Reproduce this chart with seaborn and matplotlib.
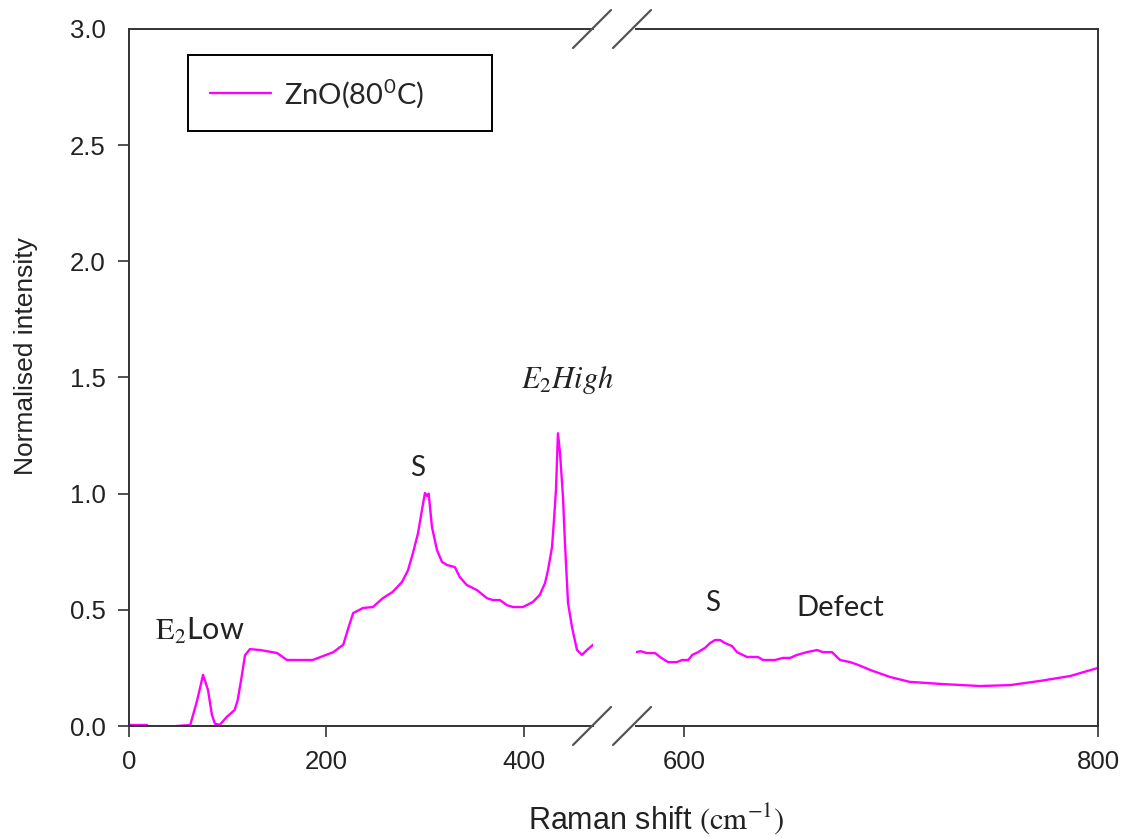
import matplotlib
matplotlib.use('Agg')
import matplotlib.pyplot as plt
from matplotlib.lines import Line2D
import seaborn as sns

# Raman spectrum (x in cm-1, y normalised)
lead_x = [0, 18]
lead_y = [0.004, 0.004]

left_x = [48, 62, 69, 75, 80, 84, 87, 92, 99, 107, 110, 114, 117.5, 122.5, 133,
          150, 160, 186, 207, 217, 222, 227, 237, 247, 257, 267, 276.5, 282.5,
          287.6, 292.7, 296.7, 299.7, 301.8, 303.5, 306.8, 311.9, 317, 322, 330,
          335, 342, 352.4, 362.5, 368.6, 375.7, 382.8, 388.9, 399, 409, 416,
          421.3, 424.3, 428.4, 430.4, 432.4, 434.4, 436.5, 439.5, 441.5, 444.6,
          448.6, 453.7, 458.7, 463.8, 470]
left_y = [0.0, 0.004, 0.11, 0.22, 0.155, 0.047, 0.01, 0.005, 0.039, 0.069, 0.11,
          0.21, 0.305, 0.331, 0.327, 0.314, 0.284, 0.284, 0.318, 0.35, 0.42,
          0.486, 0.508, 0.512, 0.55, 0.577, 0.62, 0.67, 0.745, 0.83, 0.93, 1.003,
          0.99, 1.0, 0.857, 0.757, 0.706, 0.693, 0.684, 0.641, 0.607, 0.585,
          0.55, 0.542, 0.542, 0.52, 0.512, 0.512, 0.534, 0.564, 0.615, 0.67,
          0.77, 0.887, 1.016, 1.26, 1.175, 0.986, 0.788, 0.53, 0.426, 0.327,
          0.306, 0.327, 0.35]

right_x = [577, 579, 582, 586, 588.4, 592.3, 596.6, 599, 602, 604, 606.8, 610.1,
           612.6, 615, 617.4, 619.8, 623.2, 625.6, 630.4, 635.7, 638.2, 643.9,
           647.8, 651.2, 654.6, 659.4, 664.3, 667.1, 671.5, 675.4, 680.2, 684.1,
           690, 699.5, 709, 724, 743, 757.5, 772, 786.5, 800]
right_y = [0.318, 0.322, 0.314, 0.314, 0.297, 0.275, 0.275, 0.284, 0.284, 0.306,
           0.318, 0.336, 0.357, 0.37, 0.37, 0.357, 0.344, 0.318, 0.297, 0.297,
           0.284, 0.284, 0.293, 0.293, 0.306, 0.318, 0.327, 0.318, 0.318, 0.284,
           0.275, 0.263, 0.241, 0.211, 0.19, 0.181, 0.172, 0.176, 0.194, 0.215,
           0.25]

left_ticks = [0, 200, 400]
right_ticks = [600, 800]
y_ticks = [0.0, 0.5, 1.0, 1.5, 2.0, 2.5, 3.0]

sns.set_style('ticks')
plt.rcParams['font.family'] = ['Liberation Sans', 'DejaVu Sans']
plt.rcParams['mathtext.fontset'] = 'stix'

pink = '#ff00ff'
dark = '#222222'
note_font = ['Lato', 'DejaVu Sans']

fig = plt.figure(figsize=(11.22, 8.38), dpi=100)
W, H = 1122, 838
bot, top = 1 - 726 / H, 1 - 29 / H
axl = fig.add_axes([129 / W, bot, (593 - 129) / W, top - bot])
axr = fig.add_axes([636 / W, bot, (1098 - 636) / W, top - bot])

sns.lineplot(x=lead_x, y=lead_y, ax=axl, color=pink, lw=1.7, legend=False)
sns.lineplot(x=left_x, y=left_y, ax=axl, color=pink, lw=1.7,
             label=r'ZnO(80$^{\mathregular{0}}$C)')
sns.lineplot(x=right_x, y=right_y, ax=axr, color=pink, lw=1.7, legend=False)

axl.set_xlim(0, 469.9)
axr.set_xlim(576.8, 800)
for ax in (axl, axr):
    ax.set_ylim(0, 3.0)
    for s in ax.spines.values():
        s.set_color('#333333')
        s.set_linewidth(1.4)
    ax.tick_params(direction='out', length=8, width=1.2, colors='#333333',
                   labelsize=18.5, labelcolor=dark, pad=9)
    ax.set_xlabel('')
    ax.set_ylabel('')

axl.spines['right'].set_visible(False)
axr.spines['left'].set_visible(False)
axl.set_xticks(left_ticks)
axr.set_xticks(right_ticks)
axl.set_yticks(y_ticks)
axl.set_yticklabels([f'{v:.1f}' for v in y_ticks])
axl.yaxis.get_major_ticks()[-1].tick1line.set_visible(False)
axr.set_yticks([])

leg = axl.legend(loc='upper left',
                 bbox_to_anchor=(188 / W, 1 - 126 / H, 304 / W, 71 / H),
                 bbox_transform=fig.transFigure, mode='expand',
                 borderaxespad=0, fancybox=False, edgecolor='black',
                 framealpha=1, prop={'family': note_font, 'size': 21},
                 handlelength=2.1, borderpad=0.75, handletextpad=0.45)
leg.get_frame().set_linewidth(1.4)

# peak labels
axl.text(26, 0.41, r'$\mathrm{E_2}$Low', fontsize=22, family=note_font,
         color=dark, va='center')
axl.text(292.7, 1.11, 'S', fontsize=20, family=note_font, color=dark,
         ha='center', va='center')
axl.text(444.6, 1.49, r'$E_2High$', fontsize=22, color=dark,
         ha='center', va='center', clip_on=False)
axr.text(614, 0.53, 'S', fontsize=20, family=note_font, color=dark,
         ha='center', va='center')
axr.text(675.4, 0.51, 'Defect', fontsize=21, family=note_font, color=dark,
         ha='center', va='center')

# axis labels
fig.text(26 / W, 1 - 356 / H, 'Normalised intensity', rotation=90,
         fontsize=19, color=dark, ha='center', va='center')
fig.text(656 / W, 1 - 828 / H, r'Raman shift $(\mathrm{cm^{-1}})$',
         fontsize=22, color=dark, ha='center', va='baseline')

# break marks on top and bottom spines
for cy in (29, 726):
    for cx in (592, 632):
        fig.add_artist(Line2D([(cx - 19) / W, (cx + 19) / W],
                              [1 - (cy + 19) / H, 1 - (cy - 19) / H],
                              transform=fig.transFigure, color='#555555',
                              lw=1.6))

fig.savefig('out.png', dpi=100)
